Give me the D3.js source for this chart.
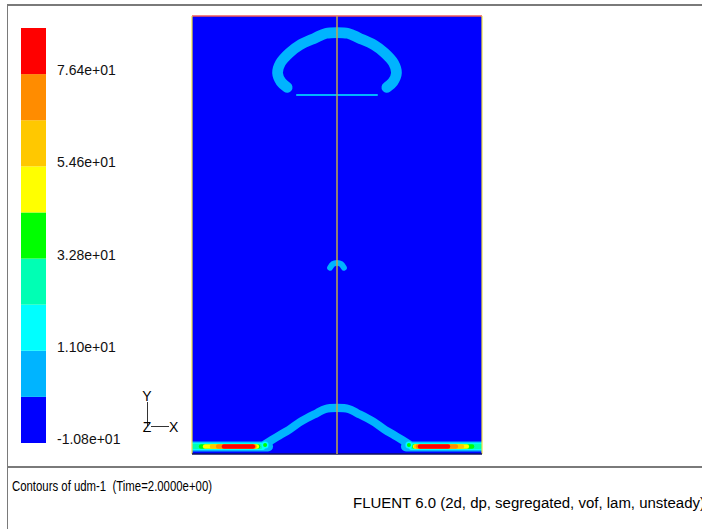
<!DOCTYPE html>
<html>
<head>
<meta charset="utf-8">
<script src="https://cdn.jsdelivr.net/npm/d3@7/dist/d3.min.js"></script>
<style>
body { margin: 0; background: #fff; }
svg { display: block; font-family: "Liberation Sans", Arial, sans-serif; }
</style>
</head>
<body>
<svg id="plot" width="702" height="529"></svg>
<script>
// contour band edges and colours (udm-1)
const levels = [-10.8, 0.1, 11.0, 21.9, 32.8, 43.7, 54.6, 65.5, 76.4, 87.3];
const bandColors = ["#0000ff", "#00b4ff", "#00ffff", "#00ffb4", "#00ff00", "#ffff00", "#ffc800", "#ff8c00", "#ff0000"];
const tickValues = [-10.8, 11.0, 32.8, 54.6, 76.4];
const tickLabels = ["-1.08e+01", "1.10e+01", "3.28e+01", "5.46e+01", "7.64e+01"];

// domain extent (cm)
const domainX = [-5, 5];
const domainY = [0, 15.1];
const backgroundValue = -5;

// interface bands: [x, y] along the middle of each band
const capPts = [[-1.72, 12.64], [-1.93, 12.83], [-2.05, 13.14], [-1.95, 13.48], [-1.64, 13.83], [-1.28, 14.10], [-0.76, 14.34], [-0.38, 14.50], [0, 14.53],
  [0.38, 14.50], [0.76, 14.34], [1.28, 14.10], [1.64, 13.83], [1.95, 13.48], [2.05, 13.14], [1.93, 12.83], [1.72, 12.64]];
const filmPts = [[-1.38, 12.38], [1.38, 12.38]];
const dropPts = [[-0.24, 6.42], [-0.14, 6.55], [0, 6.59], [0.14, 6.55], [0.24, 6.42]];
const humpPts = [[-2.48, 0.34], [-2.07, 0.59], [-1.62, 0.86], [-1.28, 1.10], [-1.03, 1.24], [-0.69, 1.41], [-0.41, 1.55], [0, 1.59],
  [0.41, 1.55], [0.69, 1.41], [1.03, 1.24], [1.28, 1.10], [1.62, 0.86], [2.07, 0.59], [2.48, 0.34]];
const bands = [
  { pts: capPts, w: 0.37, v: 5 },
  { pts: filmPts, w: 0.07, v: 5 },
  { pts: dropPts, w: 0.2, v: 5 },
  { pts: humpPts, w: 0.28, v: 5 }
];

// wall layer near the floor: x0, x1, thickness, value
const floorY = 0.26;
const floorLeft = [
  { x0: -5.0, x1: -2.38, w: 0.35, v: 5 },
  { x0: -5.0, x1: -2.59, w: 0.25, v: 16 },
  { x0: -4.93, x1: -2.66, w: 0.18, v: 27 },
  { x0: -4.69, x1: -2.72, w: 0.15, v: 38 },
  { x0: -4.55, x1: -2.76, w: 0.15, v: 49 },
  { x0: -4.31, x1: -2.83, w: 0.15, v: 60 },
  { x0: -4.10, x1: -2.86, w: 0.15, v: 71 },
  { x0: -3.90, x1: -2.90, w: 0.15, v: 80 }
];
const floorRight = [
  { x0: 2.38, x1: 5.0, w: 0.35, v: 5 },
  { x0: 2.59, x1: 5.0, w: 0.25, v: 16 },
  { x0: 2.62, x1: 4.93, w: 0.18, v: 27 },
  { x0: 2.66, x1: 4.66, w: 0.15, v: 38 },
  { x0: 2.69, x1: 4.48, w: 0.15, v: 49 },
  { x0: 2.72, x1: 4.31, w: 0.15, v: 60 },
  { x0: 2.79, x1: 4.10, w: 0.15, v: 71 },
  { x0: 2.86, x1: 3.83, w: 0.15, v: 80 }
];
const hotSpots = [[-2.48, 0.31], [2.48, 0.31]];

const svg = d3.select("#plot");

// scales
const x = d3.scaleLinear().domain(domainX).range([192, 482]);
const y = d3.scaleLinear().domain(domainY).range([454, 16]);
const px = d => x(d) - x(0);
const color = d3.scaleThreshold().domain(levels.slice(1, -1)).range(bandColors);
const barY = d3.scaleLinear().domain([levels[0], levels[levels.length - 1]]).range([443, 28]);

// frame
svg.append("line").attr("x1", 7).attr("x2", 702).attr("y1", 5).attr("y2", 5).attr("stroke", "#7a7a7a").attr("stroke-width", 2);
svg.append("line").attr("x1", 7.5).attr("x2", 7.5).attr("y1", 5).attr("y2", 529).attr("stroke", "#7a7a7a").attr("stroke-width", 1);
svg.append("line").attr("x1", 7).attr("x2", 702).attr("y1", 467).attr("y2", 467).attr("stroke", "#7a7a7a").attr("stroke-width", 2);

// colour bar
svg.append("g").selectAll("rect")
  .data(bandColors)
  .enter()
  .append("rect")
  .attr("x", 21)
  .attr("width", 25)
  .attr("y", (c, i) => barY(levels[i + 1]))
  .attr("height", (c, i) => barY(levels[i]) - barY(levels[i + 1]))
  .attr("fill", c => c);

svg.append("g").selectAll("text")
  .data(tickValues)
  .enter()
  .append("text")
  .attr("x", 57)
  .attr("y", d => barY(d) + 1)
  .attr("font-size", 14)
  .attr("fill", "#111")
  .text((d, i) => tickLabels[i]);

// axis triad
const triad = svg.append("g").attr("stroke", "#333").attr("stroke-width", 1);
triad.append("line").attr("x1", 147.5).attr("x2", 147.5).attr("y1", 402).attr("y2", 426);
triad.append("line").attr("x1", 151).attr("x2", 169).attr("y1", 426.5).attr("y2", 426.5);
svg.append("text").attr("x", 147).attr("y", 401).attr("text-anchor", "middle").attr("font-size", 14).text("Y");
svg.append("text").attr("x", 147).attr("y", 432).attr("text-anchor", "middle").attr("font-size", 14).text("Z");
svg.append("text").attr("x", 169).attr("y", 432).attr("font-size", 14).text("X");

// contour field
svg.append("clipPath").attr("id", "dom")
  .append("rect").attr("x", x(domainX[0])).attr("y", y(domainY[1]))
  .attr("width", x(domainX[1]) - x(domainX[0])).attr("height", y(domainY[0]) - y(domainY[1]));

const field = svg.append("g").attr("clip-path", "url(#dom)");
field.append("rect")
  .attr("x", x(domainX[0])).attr("y", y(domainY[1]))
  .attr("width", x(domainX[1]) - x(domainX[0])).attr("height", y(domainY[0]) - y(domainY[1]))
  .attr("fill", color(backgroundValue));

const line = d3.line().x(d => x(d[0])).y(d => y(d[1])).curve(d3.curveCatmullRom);
field.selectAll("path.band")
  .data(bands)
  .enter()
  .append("path")
  .attr("class", "band")
  .attr("d", d => line(d.pts))
  .attr("fill", "none")
  .attr("stroke", d => color(d.v))
  .attr("stroke-width", d => px(d.w))
  .attr("stroke-linecap", "round")
  .attr("stroke-linejoin", "round");

field.selectAll("line.floor")
  .data(floorLeft.concat(floorRight))
  .enter()
  .append("line")
  .attr("class", "floor")
  .attr("x1", d => x(d.x0)).attr("x2", d => x(d.x1))
  .attr("y1", y(floorY)).attr("y2", y(floorY))
  .attr("stroke", d => color(d.v))
  .attr("stroke-width", d => px(d.w))
  .attr("stroke-linecap", "round");

field.selectAll("circle.hot")
  .data(hotSpots)
  .enter()
  .append("circle")
  .attr("class", "hot")
  .attr("cx", d => x(d[0])).attr("cy", d => y(d[1]))
  .attr("r", 3.5)
  .attr("fill", color(16));
field.selectAll("circle.core")
  .data(hotSpots)
  .enter()
  .append("circle")
  .attr("class", "core")
  .attr("cx", d => x(d[0])).attr("cy", d => y(d[1]))
  .attr("r", 2)
  .attr("fill", color(38));

// boundaries
svg.append("line").attr("x1", x(domainX[0])).attr("x2", x(domainX[1])).attr("y1", y(domainY[1])).attr("y2", y(domainY[1]))
  .attr("stroke", "#f05a5a").attr("stroke-width", 1.5);
svg.append("line").attr("x1", x(domainX[0])).attr("x2", x(domainX[0])).attr("y1", y(domainY[1])).attr("y2", y(domainY[0]))
  .attr("stroke", "#f0e040").attr("stroke-width", 1.2);
svg.append("line").attr("x1", x(domainX[1])).attr("x2", x(domainX[1])).attr("y1", y(domainY[1])).attr("y2", y(domainY[0]))
  .attr("stroke", "#f0e040").attr("stroke-width", 1.2);
svg.append("line").attr("x1", x(domainX[0])).attr("x2", x(domainX[1])).attr("y1", y(domainY[0])).attr("y2", y(domainY[0]))
  .attr("stroke", "#10105a").attr("stroke-width", 1.5);
svg.append("line").attr("x1", x(0)).attr("x2", x(0)).attr("y1", y(domainY[1])).attr("y2", y(domainY[0]))
  .attr("stroke", "#c0a848").attr("stroke-width", 1.5);

// footer
svg.append("text").attr("x", 12).attr("y", 491).attr("font-size", 14).style("white-space", "pre")
  .attr("textLength", 200).attr("lengthAdjust", "spacingAndGlyphs")
  .text("Contours of udm-1  (Time=2.0000e+00)");
svg.append("text").attr("x", 353).attr("y", 508).attr("font-size", 14).style("white-space", "pre")
  .attr("textLength", 352).attr("lengthAdjust", "spacingAndGlyphs")
  .text("FLUENT 6.0 (2d, dp, segregated, vof, lam, unsteady)");
</script>
</body>
</html>
